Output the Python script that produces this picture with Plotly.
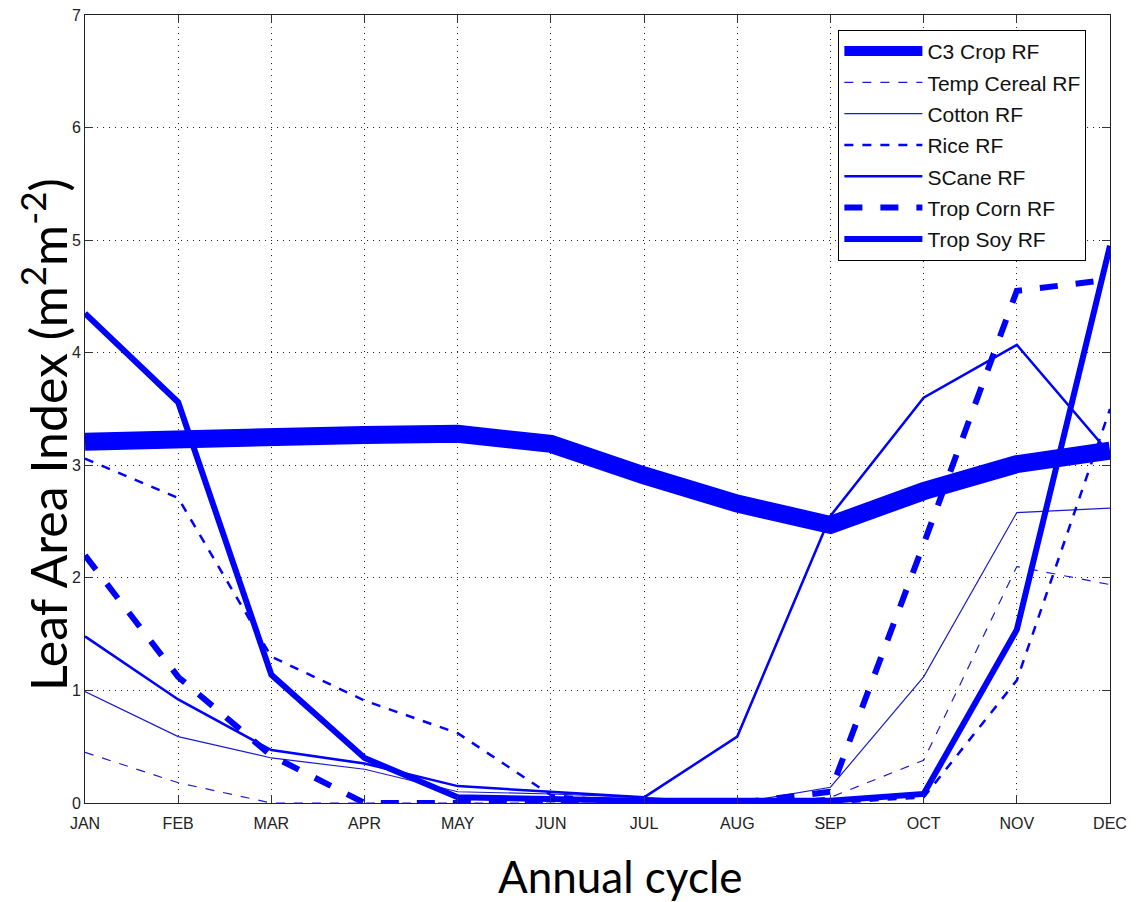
import plotly.graph_objects as go

months = ["JAN", "FEB", "MAR", "APR", "MAY", "JUN", "JUL", "AUG", "SEP", "OCT", "NOV", "DEC"]

c3_crop = [3.21, 3.24, 3.27, 3.27, 3.28, 3.19, 2.91, 2.66, 2.47, 2.77, 3.01, 3.13]
temp_cereal = [0.45, 0.18, 0.0, 0.0, 0.0, 0.0, 0.0, 0.0, 0.05, 0.38, 2.1, 1.94]
cotton = [0.99, 0.59, 0.4, 0.3, 0.1, 0.08, 0.05, 0.0, 0.14, 1.12, 2.58, 2.62]
rice = [3.06, 2.71, 1.3, 0.91, 0.62, 0.07, 0.0, 0.0, 0.0, 0.05, 1.09, 3.5]
scane = [1.48, 0.92, 0.47, 0.35, 0.15, 0.1, 0.05, 0.59, 2.55, 3.6, 4.07, 3.1]
trop_corn = [2.2, 1.12, 0.42, 0.0, 0.0, 0.0, 0.0, 0.0, 0.1, 2.3, 4.55, 4.65]
trop_soy = [4.35, 3.56, 1.14, 0.4, 0.05, 0.03, 0.02, 0.02, 0.02, 0.08, 1.54, 4.95]

names = ["C3 Crop RF", "Temp Cereal RF", "Cotton RF", "Rice RF", "SCane RF", "Trop Corn RF", "Trop Soy RF"]
series = [c3_crop, temp_cereal, cotton, rice, scane, trop_corn, trop_soy]
styles = [
    dict(width=18, dash="solid", color="#0000ff"),
    dict(width=1.2, dash="dash", color="#1a1ad0"),
    dict(width=1.2, dash="solid", color="#1a1ad0"),
    dict(width=2.5, dash="dash", color="#0000ff"),
    dict(width=2.5, dash="solid", color="#0000ff"),
    dict(width=6, dash="dash", color="#0000ff"),
    dict(width=6, dash="solid", color="#0000ff"),
]

x_title = "Annual cycle"
y_title = "Leaf Area Index (m<sup>2</sup>m<sup>-2</sup>)"

fig = go.Figure()
for name, ys, st in zip(names, series, styles):
    fig.add_trace(go.Scatter(
        x=list(range(len(months))), y=ys, name=name, mode="lines",
        line=dict(width=st["width"], dash=st["dash"], color=st["color"]),
        legendgroup=name,
    ))

axis_common = dict(
    showline=True, linecolor="#222", linewidth=1, mirror="ticks",
    ticks="inside", ticklen=8, tickcolor="#333", tickwidth=1,
    showgrid=True, gridcolor="#222", griddash="1px,5px", gridwidth=1,
    zeroline=False, automargin=False, ticklabeloverflow="allow",
    tickfont=dict(family="Liberation Sans, Arial", size=16, color="#222"),
)

fig.update_layout(
    width=1140, height=894,
    paper_bgcolor="white", plot_bgcolor="white",
    margin=dict(l=77, r=38, t=7, b=99),
    xaxis=dict(
        range=[0, 11], tickmode="array", tickvals=list(range(len(months))), ticktext=months,
        ticklabelstandoff=6,
        **axis_common,
    ),
    yaxis=dict(
        range=[0, 7], tickmode="array", tickvals=[0, 1, 2, 3, 4, 5, 6, 7],
        **axis_common,
    ),
    legend=dict(
        x=0.735, y=0.981, xanchor="left", yanchor="top",
        bgcolor="white", bordercolor="black", borderwidth=1,
        font=dict(family="Liberation Sans, Arial", size=21, color="#111"),
        itemwidth=78, tracegroupgap=1,
    ),
    annotations=[
        dict(text=x_title, xref="paper", yref="paper", x=0.522, y=-0.093,
             xanchor="center", yanchor="middle", showarrow=False,
             font=dict(family="Lato", size=44, color="black")),
        dict(text=y_title, xref="paper", yref="paper", x=-0.040, y=0.467,
             xanchor="center", yanchor="middle", showarrow=False, textangle=-90,
             font=dict(family="Lato", size=50, color="black")),
    ],
    showlegend=True,
)

fig.write_html("out.html")
